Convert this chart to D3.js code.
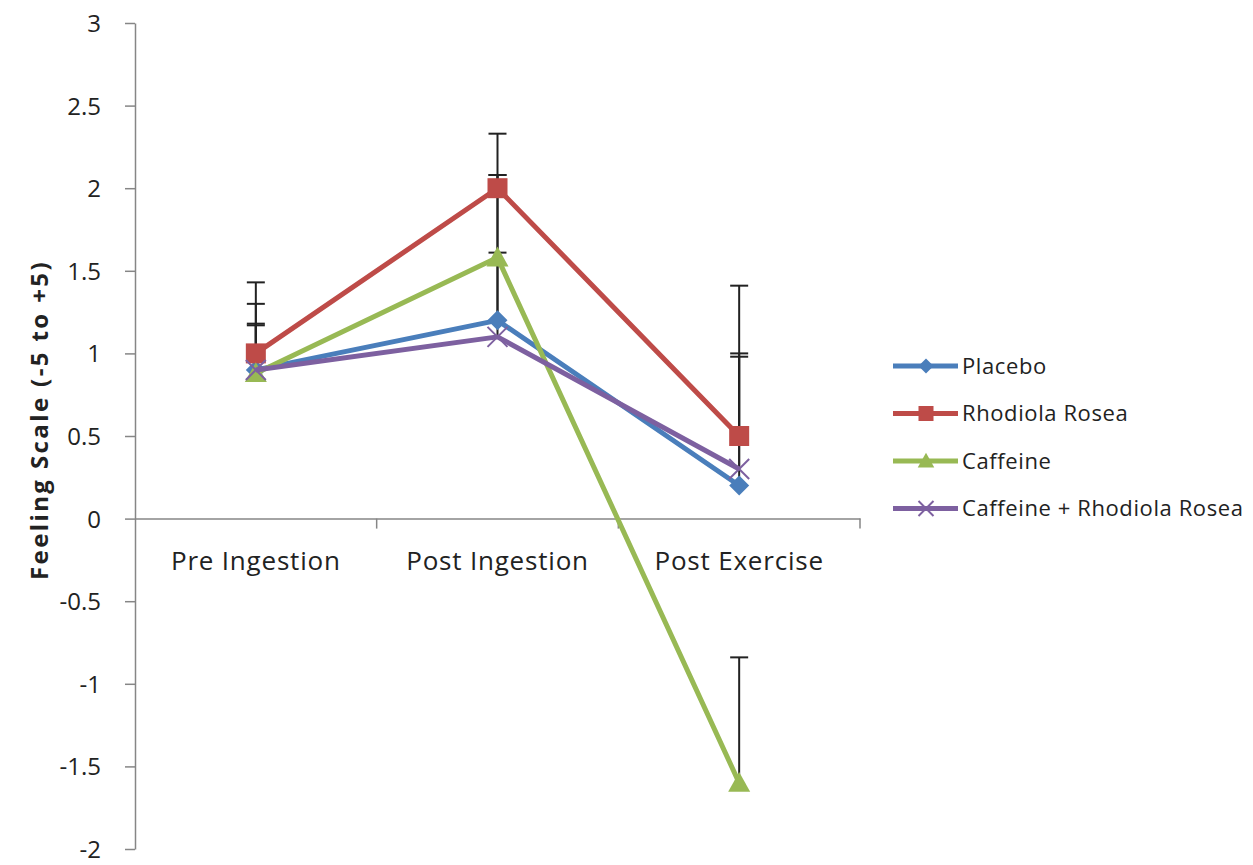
<!DOCTYPE html>
<html>
<head>
<meta charset="utf-8">
<script src="https://cdn.jsdelivr.net/npm/d3@7"></script>
<style>
  body { margin: 0; background: #fff; }
  text { font-family: "Open Sans", sans-serif; fill: #222; }
</style>
</head>
<body>
<div id="chart"></div>
<script>
var categories = ["Pre Ingestion", "Post Ingestion", "Post Exercise"];
var seriesNames = ["Placebo", "Rhodiola Rosea", "Caffeine", "Caffeine + Rhodiola Rosea"];
var placebo = [0.9, 1.2, 0.2];
var rhodiola = [1.0, 2.0, 0.5];
var caffeine = [0.88, 1.58, -1.6];
var caffRhodiola = [0.9, 1.1, 0.3];
// upper error bar lengths (only the + side is drawn)
var placeboErr = [0.40, 0.88, 0.80];
var rhodiolaErr = [0.43, 0.33, 0.91];
var caffeineErr = [0.29, 0.03, 0.76];
var caffRhodiolaErr = [0.28, 0.98, 0.68];
var yTicks = [3, 2.5, 2, 1.5, 1, 0.5, 0, -0.5, -1, -1.5, -2];

var colors = ["#4a7ebb", "#be4b48", "#98b954", "#7d60a0"];
var shapes = ["diamond", "square", "triangle", "x"];
var values = [placebo, rhodiola, caffeine, caffRhodiola];
var errs = [placeboErr, rhodiolaErr, caffeineErr, caffRhodiolaErr];

var width = 1253, height = 865;
var svg = d3.select("#chart").append("svg")
    .attr("width", width)
    .attr("height", height);

var x = d3.scaleBand().domain(categories).range([135, 860]);
var y = d3.scaleLinear().domain([-2, 3]).range([849, 23]);

// y axis
var yAxis = svg.append("g").attr("transform", "translate(135,0)")
    .call(d3.axisLeft(y).tickValues(yTicks).tickSize(10).tickSizeOuter(0)
        .tickFormat(function (d) { return d; }));
yAxis.select(".domain").attr("stroke", "#868686").attr("stroke-width", 1.5);
yAxis.selectAll(".tick line").attr("stroke", "#868686").attr("stroke-width", 1.5);
yAxis.selectAll(".tick text").attr("x", -34).attr("dy", "0.35em")
    .style("font-size", "24px").style("fill", "#222");

// x axis at y=0
var xAxis = svg.append("g").attr("transform", "translate(0," + y(0) + ")")
    .call(d3.axisBottom(x).tickSize(0).tickSizeOuter(0));
xAxis.select(".domain").attr("stroke", "#868686").attr("stroke-width", 1.5);
xAxis.selectAll(".tick text").attr("y", 42).attr("dy", "0.35em")
    .style("font-size", "26px").style("letter-spacing", "0.8px").style("fill", "#222");
svg.append("g").selectAll("line")
    .data(categories.slice(1).concat(["end"]))
    .enter().append("line")
    .attr("x1", function (d, i) { return x(categories[0]) + x.bandwidth() * (i + 1); })
    .attr("x2", function (d, i) { return x(categories[0]) + x.bandwidth() * (i + 1); })
    .attr("y1", y(0)).attr("y2", y(0) + 10)
    .attr("stroke", "#868686").attr("stroke-width", 1.5);

// y label
svg.append("text")
    .attr("transform", "translate(40," + 420 + ") rotate(-90)")
    .attr("dy", "0.35em")
    .attr("text-anchor", "middle")
    .style("font-size", "24px").style("font-weight", "bold").style("letter-spacing", "2.4px")
    .text("Feeling Scale (-5 to +5)");

var cx = function (i) { return x(categories[i]) + x.bandwidth() / 2; };

// error bars
values.forEach(function (vals, s) {
    var g = svg.append("g");
    vals.forEach(function (v, i) {
        var top = y(v + errs[s][i]);
        g.append("line").attr("x1", cx(i)).attr("x2", cx(i))
            .attr("y1", y(v)).attr("y2", top)
            .attr("stroke", "#222").attr("stroke-width", 2);
        g.append("line").attr("x1", cx(i) - 9).attr("x2", cx(i) + 9)
            .attr("y1", top).attr("y2", top)
            .attr("stroke", "#222").attr("stroke-width", 2);
    });
});

function drawMarker(g, shape, px, py, color, size) {
    size = size || 1;
    if (shape === "diamond") {
        var r = 10 * size;
        g.append("path").attr("d", "M" + px + "," + (py - r) + "L" + (px + r) + "," + py +
            "L" + px + "," + (py + r) + "L" + (px - r) + "," + py + "Z").attr("fill", color);
    } else if (shape === "square") {
        var h = 10 * size;
        g.append("rect").attr("x", px - h).attr("y", py - h).attr("width", 2 * h).attr("height", 2 * h)
            .attr("fill", color);
    } else if (shape === "triangle") {
        var t = 11 * size;
        g.append("path").attr("d", "M" + px + "," + (py - t) + "L" + (px + t) + "," + (py + t * 0.8) +
            "L" + (px - t) + "," + (py + t * 0.8) + "Z").attr("fill", color);
    } else {
        var k = 10 * size;
        g.append("path").attr("d", "M" + (px - k) + "," + (py - k) + "L" + (px + k) + "," + (py + k) +
            "M" + (px - k) + "," + (py + k) + "L" + (px + k) + "," + (py - k))
            .attr("stroke", color).attr("stroke-width", 2);
    }
}

var line = d3.line()
    .x(function (d, i) { return cx(i); })
    .y(function (d) { return y(d); });

values.forEach(function (vals, s) {
    var g = svg.append("g");
    g.append("path").datum(vals).attr("d", line)
        .attr("fill", "none").attr("stroke", colors[s]).attr("stroke-width", 5)
        .attr("stroke-linejoin", "round");
    vals.forEach(function (v, i) {
        drawMarker(g, shapes[s], cx(i), y(v), colors[s]);
    });
});

// legend
var legend = svg.append("g");
seriesNames.forEach(function (name, s) {
    var ly = 366 + s * 47.5;
    legend.append("line").attr("x1", 893).attr("x2", 958).attr("y1", ly).attr("y2", ly)
        .attr("stroke", colors[s]).attr("stroke-width", 5);
    drawMarker(legend, shapes[s], 926, ly, colors[s], 0.75);
    legend.append("text").attr("x", 962).attr("y", ly).attr("dy", "0.35em")
        .style("font-size", "22px").style("letter-spacing", "0.6px").text(name);
});
</script>
</body>
</html>
